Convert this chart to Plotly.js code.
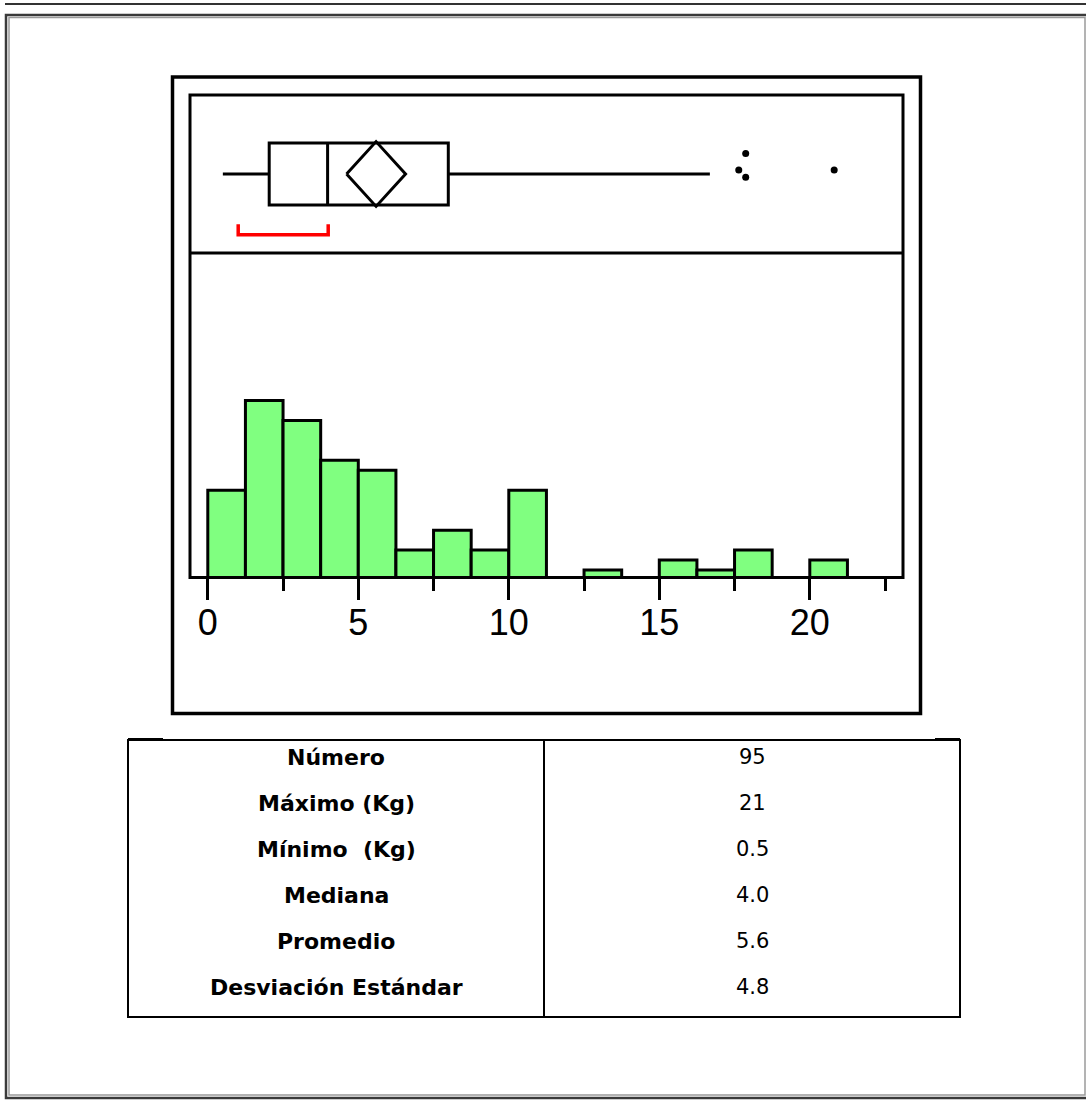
<!DOCTYPE html>
<html>
<head>
<meta charset="utf-8">
<script src="https://cdn.plot.ly/plotly-3.0.1.min.js"></script>
<style>
  html, body { margin: 0; padding: 0; background: #ffffff; }
  #chart { width: 1086px; height: 1102px; }
</style>
</head>
<body>
<div id="chart"></div>
<script>
// ---------------- DATA ----------------
const binWidth = 1.25;
const binStarts = [0, 1.25, 2.5, 3.75, 5, 6.25, 7.5, 8.75, 10, 11.25, 12.5, 13.75, 15, 16.25, 17.5, 18.75, 20];
const binCounts = [9, 18, 16, 12, 11, 3, 5, 3, 9, 0, 1, 0, 2, 1, 3, 0, 2];

const boxQ1 = [2.04];
const boxMedian = [3.98];
const boxQ3 = [7.99];
const whiskerLow = [0.5];
const whiskerHigh = [16.68];
const meanValue = [5.59];
const meanCI = [0.98];
const outlierX = [17.87, 17.64, 17.87, 20.81];
const outlierJitter = [0.26, 0.05, -0.04, 0.05];
const shortestHalf = [1.01, 4.0];

const tickValues = [0, 5, 10, 15, 20];
const tickLabels = ['0', '5', '10', '15', '20'];

const statLabels = ['Número', 'Máximo (Kg)', 'Mínimo  (Kg)', 'Mediana', 'Promedio', 'Desviación Estándar'];
const statValues = ['95', '21', '0.5', '4.0', '5.6', '4.8'];

// ---------------- LAYOUT HELPERS ----------------
const W = 1086, H = 1102;
const px = x => x / W;
const py = y => 1 - y / H;
const FONT = 'Arial, "Liberation Sans", sans-serif';

// x scale: value 0 at 207.8px, 30.1 px per unit, plot spans 190..903 px
const xRange = [(190 - 207.8) / 30.1, (903 - 207.8) / 30.1];
// y scale (histogram): count 0 at 580px, 9.97 px per count, plot spans 253..576 px
const yPerCount = 9.97;
const yRange = [(580 - 576) / yPerCount, (580 - 253) / yPerCount];

// ---------------- TRACES ----------------
const histTrace = {
  type: 'bar',
  x: binStarts.map(s => s + binWidth / 2),
  y: binCounts,
  width: binStarts.map(() => binWidth),
  marker: { color: '#80ff80', line: { color: '#000000', width: 3 } },
  xaxis: 'x', yaxis: 'y',
  hoverinfo: 'skip'
};

const boxTrace = {
  type: 'box',
  orientation: 'h',
  y: [0],
  q1: boxQ1, median: boxMedian, q3: boxQ3,
  lowerfence: whiskerLow, upperfence: whiskerHigh,
  width: 0.785,
  whiskerwidth: 0,
  boxpoints: false,
  fillcolor: '#ffffff',
  line: { color: '#000000', width: 3 },
  xaxis: 'x', yaxis: 'y2',
  hoverinfo: 'skip'
};

const dH = 0.41;
const diamondTrace = {
  type: 'scatter', mode: 'lines',
  x: [meanValue[0] - meanCI[0], meanValue[0], meanValue[0] + meanCI[0], meanValue[0], meanValue[0] - meanCI[0]],
  y: [0, dH, 0, -dH, 0],
  line: { color: '#000000', width: 3 },
  xaxis: 'x', yaxis: 'y2', hoverinfo: 'skip'
};

const outlierTrace = {
  type: 'scatter', mode: 'markers',
  x: outlierX, y: outlierJitter,
  marker: { color: '#000000', size: 7 },
  xaxis: 'x', yaxis: 'y2', hoverinfo: 'skip'
};

const bracketTrace = {
  type: 'scatter', mode: 'lines',
  x: [shortestHalf[0], shortestHalf[0], shortestHalf[1], shortestHalf[1]],
  y: [-0.635, -0.77, -0.77, -0.635],
  line: { color: '#ff0000', width: 3.5 },
  xaxis: 'x', yaxis: 'y2', hoverinfo: 'skip'
};

// ---------------- SHAPES ----------------
const shapes = [];
function rectPx(x0, y0, x1, y1, color, width) {
  shapes.push({ type: 'rect', xref: 'paper', yref: 'paper', x0: px(x0), x1: px(x1), y0: py(y0), y1: py(y1),
    line: { color: color, width: width }, fillcolor: 'rgba(0,0,0,0)', layer: 'above' });
}
function linePx(x0, y0, x1, y1, color, width) {
  shapes.push({ type: 'line', xref: 'paper', yref: 'paper', x0: px(x0), x1: px(x1), y0: py(y0), y1: py(y1),
    line: { color: color, width: width }, layer: 'above' });
}
// window-like border
linePx(5, 4, 1086, 4, '#333333', 2);
rectPx(6, 15, 1092, 1098, '#3a3a3a', 2.5);
rectPx(9, 17.5, 1085, 1095, '#9a9a9a', 1.5);
// chart frames
rectPx(172.5, 77, 920.5, 713.5, '#000000', 3.5);
rectPx(190, 95, 903, 577.5, '#000000', 3);
linePx(190, 253, 903, 253, '#000000', 3);
// table
rectPx(128, 740, 960, 1017, '#000000', 2);
linePx(544, 740, 544, 1017, '#000000', 2);
linePx(128, 739.5, 163, 739.5, '#000000', 3);
linePx(935, 739.5, 960, 739.5, '#000000', 3);

// ---------------- TABLE TEXT ----------------
const annotations = [];
statLabels.forEach((lab, i) => {
  const yc = 757 + i * 46;
  annotations.push({ xref: 'paper', yref: 'paper', x: px(336), y: py(yc), text: '<b>' + lab + '</b>',
    showarrow: false, xanchor: 'center', yanchor: 'middle',
    font: { family: '"DejaVu Sans", Arial, sans-serif', size: 22, color: '#000000' } });
  annotations.push({ xref: 'paper', yref: 'paper', x: px(752), y: py(yc), text: statValues[i],
    showarrow: false, xanchor: 'center', yanchor: 'middle',
    font: { family: '"DejaVu Sans", Arial, sans-serif', size: 21, color: '#000000' } });
});

// ---------------- LAYOUT ----------------
const layout = {
  width: W, height: H,
  margin: { l: 0, r: 0, t: 0, b: 0, pad: 0 },
  paper_bgcolor: '#ffffff', plot_bgcolor: 'rgba(0,0,0,0)',
  showlegend: false,
  bargap: 0,
  xaxis: {
    domain: [px(190), px(903)],
    range: xRange,
    anchor: 'y',
    showgrid: false, zeroline: false,
    showline: true, linecolor: '#000000', linewidth: 3,
    ticks: 'outside', ticklen: 21, tickwidth: 3, tickcolor: '#000000',
    ticklabelstandoff: -8,
    tickmode: 'array', tickvals: tickValues, ticktext: tickLabels,
    tickfont: { family: FONT, size: 36, color: '#000000' },
    minor: { tickmode: 'linear', tick0: 0, dtick: 2.5, ticks: 'outside', ticklen: 12, tickwidth: 3, tickcolor: '#000000', showgrid: false },
    fixedrange: true
  },
  yaxis: {
    domain: [py(576), py(253)],
    range: yRange,
    anchor: 'x',
    visible: false, showgrid: false, zeroline: false,
    fixedrange: true
  },
  yaxis2: {
    domain: [py(253), py(95)],
    range: [-1, 1],
    anchor: 'x',
    visible: false, showgrid: false, zeroline: false,
    fixedrange: true
  },
  shapes: shapes,
  annotations: annotations
};

Plotly.newPlot('chart', [histTrace, boxTrace, diamondTrace, outlierTrace, bracketTrace], layout,
  { staticPlot: true, displayModeBar: false });
</script>
</body>
</html>
